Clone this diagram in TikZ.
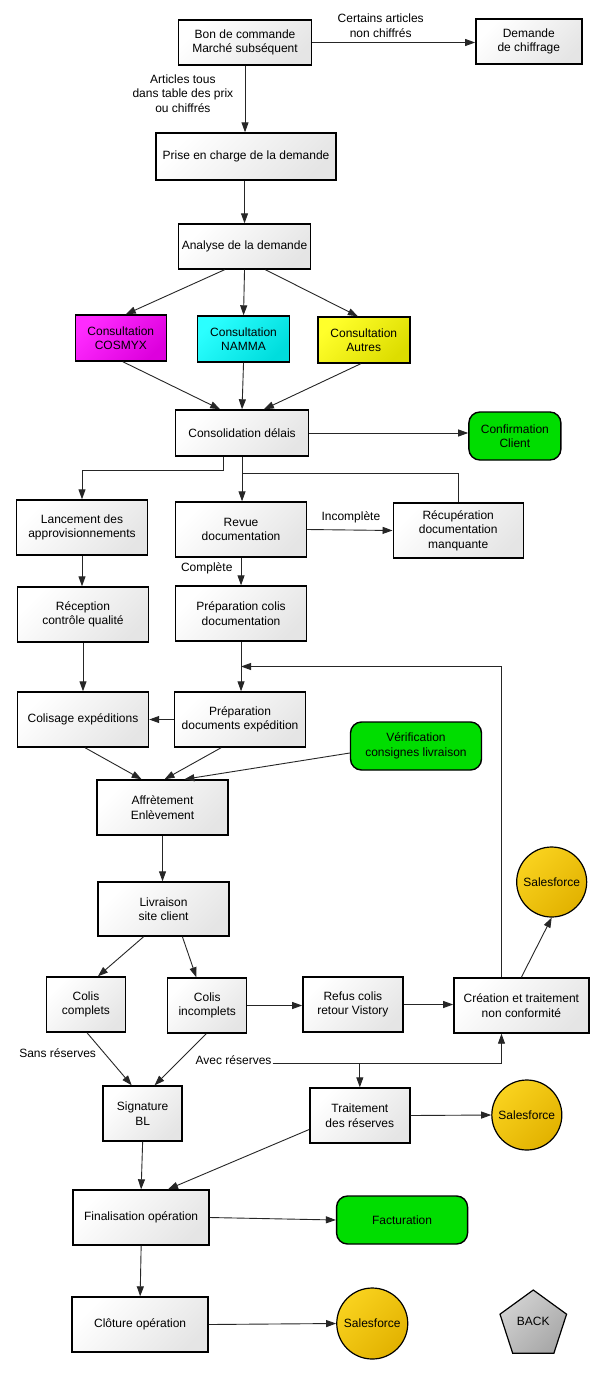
\documentclass[tikz,border=0pt]{standalone}
\usepackage{fontspec}
\setmainfont{Liberation Sans}
\usetikzlibrary{arrows.meta,shapes.geometric,calc}
\definecolor{grn}{HTML}{00DD00}
\definecolor{maga}{HTML}{FF2BFF}
\definecolor{magb}{HTML}{DD00DD}
\definecolor{cya}{HTML}{2BFFFF}
\definecolor{cyb}{HTML}{00DDDD}
\definecolor{yela}{HTML}{FFFF2B}
\definecolor{yelb}{HTML}{DDDD00}
\definecolor{sfa}{HTML}{F9D21E}
\definecolor{sfb}{HTML}{E2B200}
\definecolor{bka}{HTML}{D2D2D2}
\definecolor{bkb}{HTML}{A8A8A8}
\begin{document}
\begin{tikzpicture}[x=0.994pt,y=-1pt,font=\fontsize{12}{14.5}\selectfont,
  diag/.style 2 args={top color=#1,bottom color=#2,shading angle=45},
  box/.style={draw=black,line width=1.4pt,align=center,inner sep=1pt,diag={white}{black!10}},
  cbox/.style={draw=black,line width=1.4pt,align=center,inner sep=1pt},
  gbox/.style={draw=black,line width=1.4pt,align=center,inner sep=1pt,rounded corners=11pt,fill=grn,minimum width=#1,minimum height=48pt},
  sfnode/.style={circle,draw=black,line width=1.2pt,inner sep=0pt,minimum size=70pt,diag={sfa}{sfb}},
  lbl/.style={align=center,inner sep=0pt},
  arr/.style={-{Triangle[length=10pt,width=7pt]},line width=0.9pt,draw=black!85},
  plain/.style={line width=0.9pt,draw=black!85}]
\useasboundingbox[fill=white] (0,0) rectangle (603.6,1400);

% nodes
\node[box,minimum width=133pt,minimum height=45pt] (bon) at (246.5,42.5) {Bon de commande\\Marché subséquent};
\node[box,minimum width=106pt,minimum height=45pt] (chiff) at (532,41.5) {Demande\\de chiffrage};
\node[box,minimum width=180pt,minimum height=47pt] (prise) at (247.5,156.5) {Prise en charge de la demande};
\node[box,minimum width=132pt,minimum height=45pt] (analyse) at (246,246.5) {Analyse de la demande};
\node[cbox,diag={maga}{magb},minimum width=91pt,minimum height=46pt] (cosmyx) at (121.5,338) {Consultation\\COSMYX};
\node[cbox,diag={cya}{cyb},minimum width=92pt,minimum height=46pt] (namma) at (245,339) {Consultation\\NAMMA};
\node[cbox,diag={yela}{yelb},minimum width=92pt,minimum height=46pt] (autres) at (366,340) {Consultation\\Autres};
\node[box,minimum width=133pt,minimum height=46pt] (conso) at (243.5,433) {Consolidation délais};
\node[gbox=92pt] (confirm) at (518,436) {Confirmation\\Client};
\node[box,minimum width=131pt,minimum height=55pt] (lancement) at (82.5,527.5) {Lancement des\\approvisionnements};
\node[box,minimum width=131pt,minimum height=55pt] (revue) at (242.5,529.5) {Revue\\documentation};
\node[box,minimum width=130pt,minimum height=55pt] (recup) at (461,530.5) {Récupération\\documentation\\manquante};
\node[box,minimum width=131pt,minimum height=55pt] (reception) at (83.5,614.5) {Réception\\contrôle qualité};
\node[box,minimum width=131pt,minimum height=55pt] (prepcolis) at (242.5,613.5) {Préparation colis\\documentation};
\node[box,minimum width=131pt,minimum height=55pt] (colisage) at (83.5,719.5) {Colisage expéditions};
\node[box,minimum width=131pt,minimum height=55pt] (prepdoc) at (241.5,719.5) {Préparation\\documents expédition};
\node[gbox=131pt] (verif) at (418.5,746) {Vérification\\consignes livraison};
\node[box,minimum width=131pt,minimum height=55pt] (affr) at (163.5,807.5) {Affrètement\\Enlèvement};
\node[box,minimum width=131pt,minimum height=54pt] (livraison) at (164.5,909) {Livraison\\site client};
\node[box,minimum width=79pt,minimum height=55pt] (complets) at (86.5,1004.5) {Colis\\complets};
\node[box,minimum width=79pt,minimum height=55pt] (incomplets) at (208.5,1005.5) {Colis\\incomplets};
\node[box,minimum width=100pt,minimum height=55pt] (refus) at (355,1004.5) {Refus colis\\retour Vistory};
\node[box,minimum width=135pt,minimum height=55pt] (creation) at (524.5,1005.5) {Création et traitement\\non conformité};
\node[sfnode] (sf1) at (555,882) {Salesforce};
\node[box,minimum width=79pt,minimum height=55pt] (signature) at (143.5,1113.5) {Signature\\BL};
\node[box,minimum width=100pt,minimum height=55pt] (traitement) at (362,1115.5) {Traitement\\des réserves};
\node[sfnode] (sf2) at (530,1115) {Salesforce};
\node[box,minimum width=136pt,minimum height=55pt] (finalisation) at (142,1217.5) {Finalisation opération};
\node[gbox=131pt] (facturation) at (404.5,1220) {Facturation};
\node[box,minimum width=136pt,minimum height=55pt] (cloture) at (141,1324.5) {Clôture opération};
\node[sfnode,minimum size=71pt] (sf3) at (374.5,1323.5) {Salesforce};
\node[regular polygon,regular polygon sides=5,draw=black,line width=1.2pt,inner sep=0pt,minimum size=70pt,diag={bka}{bkb}] (back) at (536.5,1325) {};
\node[lbl] (backtxt) at (536.5,1321) {BACK};

% labels
\node[lbl] (lcertains) at (383,25.5) {Certains articles\\non chiffrés};
\node[lbl] (larticles) at (184,93.5) {Articles tous\\dans table des prix\\ou chiffrés};
\node[lbl] (lincomp) at (353,517) {Incomplète};
\node[lbl] (lcomp) at (208,568) {Complète};
\node[lbl] (lsans) at (58,1053) {Sans réserves};
\node[lbl] (lavec) at (235,1060) {Avec réserves};

% connectors
\draw[arr] (bon.east) -- (bon.east -| chiff.west);
\draw[arr] (bon.south) -- (bon.south |- prise.north);
\draw[arr] (analyse.north |- prise.south) -- (analyse.north);
\draw[arr] ($(analyse.south)+(-20,0)$) -- ($(cosmyx.north)+(5,0)$);
\draw[arr] (analyse.south) -- (namma.north);
\draw[arr] ($(analyse.south)+(21,0)$) -- ($(autres.north)+(-6,0)$);
\draw[arr] ($(cosmyx.south)+(2,0)$) -- ($(conso.north)+(-22,0)$);
\draw[arr] (namma.south) -- (conso.north);
\draw[arr] ($(autres.south)+(-3,0)$) -- ($(conso.north)+(22,0)$);
\draw[arr] (conso.east) -- (conso.east -| confirm.west);
\draw[arr] ($(conso.south)+(-19,0)$) -- ++(0,14) -| (lancement.north);
\draw[arr] (conso.south) -- (conso.south |- revue.north);
\draw[plain] (recup.north) |- ($(conso.south)+(0,17)$);
\draw[arr] (revue.east) -- (recup.west);
\draw[arr] (lancement.south) -- (lancement.south |- reception.north);
\draw[arr] (revue.south) -- (revue.south |- prepcolis.north);
\draw[arr] (reception.south) -- (reception.south |- colisage.north);
\draw[arr] (prepcolis.south) -- (prepcolis.south |- prepdoc.north);
\draw[arr] ($(creation.north)+(-20,0)$) |- ($(prepcolis.south)!0.5!(prepcolis.south |- prepdoc.north)$);
\draw[arr] (prepdoc.west) -- (prepdoc.west -| colisage.east);
\draw[arr] ($(colisage.south)+(2,0)$) -- ($(affr.north)+(-21,0)$);
\draw[arr] ($(prepdoc.south)+(-19,0)$) -- ($(affr.north)+(2,0)$);
\draw[arr] ($(verif.west)+(0,7)$) -- ($(affr.north)+(22,0)$);
\draw[arr] (affr.south) -- (affr.south |- livraison.north);
\draw[arr] ($(livraison.south)+(-20,0)$) -- ($(complets.north)+(12,0)$);
\draw[arr] ($(livraison.south)+(19,0)$) -- ($(incomplets.north)+(-11,0)$);
\draw[arr] (incomplets.east) -- (incomplets.east -| refus.west);
\draw[arr] (refus.east) -- (refus.east -| creation.west);
\draw[arr] (creation.north) -- (sf1.south);
\draw[arr] ($(complets.south)+(1,0)$) -- ($(signature.north)+(-11,0)$);
\draw[arr] ($(incomplets.south)+(-1,0)$) -- ($(signature.north)+(12,0)$);
\coordinate (avec) at ($(lavec.east)+(1,3)$);
\draw[arr] (avec) -| ($(creation.south)+(-20,0)$);
\draw[arr] (avec -| traitement.north) -- (traitement.north);
\draw[arr] (traitement.east) -- (sf2.west);
\draw[arr] (signature.south) -- (finalisation.north);
\draw[arr] ($(traitement.west)+(0,14)$) -- ($(finalisation.north)+(27,0)$);
\draw[arr] (finalisation.east) -- (facturation.west);
\draw[arr] (finalisation.south) -- (cloture.north);
\draw[arr] (cloture.east) -- (sf3.west);
\end{tikzpicture}
\end{document}
